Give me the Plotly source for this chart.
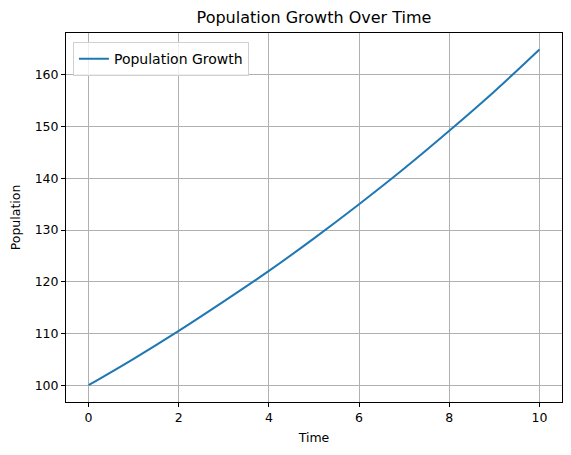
import plotly.graph_objects as go

# values
time = [0, 1, 2, 3, 4, 5, 6, 7, 8, 9, 10]
population = [100.0, 105.1, 110.5, 116.2, 122.1, 128.4, 135.0, 141.9, 149.2, 156.8, 164.9]
xTicks = [0, 2, 4, 6, 8, 10]
yTicks = [100, 110, 120, 130, 140, 150, 160]

font = 'DejaVu Sans'

fig = go.Figure()
fig.add_trace(go.Scatter(x=time, y=population,
                         mode='lines',
                         name='Population Growth',
                         line=dict(color='#1f77b4', width=2, shape='spline')))

axisStyle = dict(showline=True, linecolor='black', linewidth=1, mirror=True,
                 showgrid=True, gridcolor='#b0b0b0', gridwidth=1,
                 ticks='outside', ticklen=4, tickcolor='black',
                 zeroline=False, automargin=False,
                 tickfont=dict(family=font, size=12.5, color='black'))

# page body has an 8px margin, so the figure is a bit smaller than the window
fig.update_layout(
    width=563, height=447,
    margin=dict(l=58, r=9, t=25, b=53),
    paper_bgcolor='white', plot_bgcolor='white',
    font=dict(family=font, color='black'),
    title=dict(text='Population Growth Over Time', x=0.5435, xanchor='center',
               y=0.98, yanchor='middle', font=dict(family=font, size=16)),
    xaxis=dict(axisStyle, range=[-0.5, 10.5], tickvals=xTicks,
               title=dict(text='Time', font=dict(family=font, size=12.5), standoff=9)),
    yaxis=dict(axisStyle, range=[96.76, 168.1], tickvals=yTicks,
               title=dict(text='Population', font=dict(family=font, size=12.5), standoff=19)),
    showlegend=True,
    legend=dict(x=0.014, y=0.975, xanchor='left', yanchor='top',
                bgcolor='rgba(255,255,255,0.8)', bordercolor='#d0d0d0', borderwidth=1,
                font=dict(family=font, size=14)),
)

fig.write_html('out.html')
